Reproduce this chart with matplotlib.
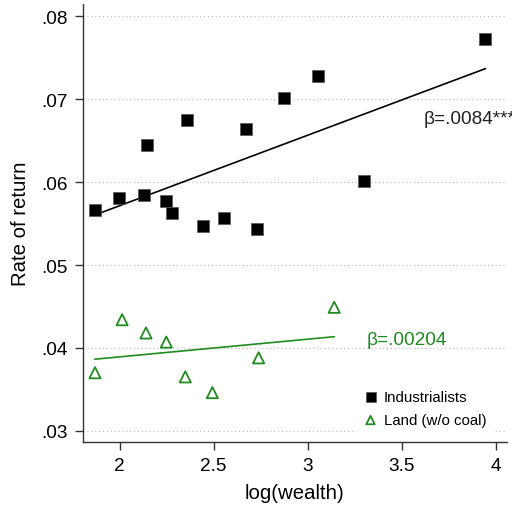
import numpy as np
import matplotlib
matplotlib.use("Agg")
import matplotlib.pyplot as plt

plt.rcParams['font.family'] = ['Liberation Sans', 'DejaVu Sans']

# Industrialists
ind_x = [1.869, 1.997, 2.131, 2.147, 2.248, 2.280, 2.358, 2.445, 2.556, 2.673,
         2.728, 2.876, 3.057, 3.302, 3.944]
ind_y = [0.0566, 0.0581, 0.0585, 0.0645, 0.0577, 0.0563, 0.0675, 0.0547, 0.0557, 0.0664,
         0.0543, 0.0701, 0.0728, 0.0601, 0.0773]
# Land (w/o coal)
land_x = [1.869, 2.013, 2.140, 2.248, 2.349, 2.493, 2.739, 3.141]
land_y = [0.0370, 0.0434, 0.0418, 0.0407, 0.0365, 0.0346, 0.0388, 0.0449]

ind_label = "β=.0084***"
land_label = "β=.00204"
xticks = [2, 2.5, 3, 3.5, 4]
xticklabels = ["2", "2.5", "3", "3.5", "4"]
yticks = [0.03, 0.04, 0.05, 0.06, 0.07, 0.08]
yticklabels = [".03", ".04", ".05", ".06", ".07", ".08"]

green = '#1e8c1e'

fig = plt.figure(figsize=(5.12, 5.06), dpi=100)
ax = fig.add_axes([83/512, 1-443/506, (507-83)/512, (443-5)/506])

ax.set_xlim(1.805, 4.06)
ax.set_ylim(0.02864, 0.0815)

for y in yticks:
    ax.axhline(y, color='#bbbbbb', lw=0.8, ls=(0, (1, 2.5)), zorder=0)

# fits
ix = np.array(ind_x); iy = np.array(ind_y)
b, a = np.polyfit(ix, iy, 1)
xs = np.array([ix.min(), ix.max()])
ax.plot(xs, a + b*xs, color='black', lw=1.2, zorder=2)
lx = np.array(land_x); ly = np.array(land_y)
b2, a2 = np.polyfit(lx, ly, 1)
xs2 = np.array([lx.min(), lx.max()])
ax.plot(xs2, a2 + b2*xs2, color=green, lw=1.2, zorder=2)

ax.scatter(ind_x, ind_y, marker='s', s=80, color='black', edgecolors='#555555',
           linewidths=0.5, zorder=3, label='Industrialists')
ax.scatter(land_x, land_y, marker='^', s=65, facecolors='none', edgecolors=green,
           linewidths=1.3, zorder=3, label='Land (w/o coal)')

ax.text(3.617, 0.0677, ind_label, fontsize=13.7, color='#222222', ha='left', va='center',
        clip_on=False)
ax.text(3.315, 0.0410, land_label, fontsize=13.7, color=green, ha='left', va='center')

leg = ax.legend(loc='lower left', bbox_to_anchor=(0.625, 0.0), frameon=True, fontsize=10.8,
                markerscale=0.75, handletextpad=0.4, labelspacing=0.6, borderpad=0.5,
                handlelength=1.0)
leg.get_frame().set_edgecolor('none')
leg.get_frame().set_facecolor('white')
leg.get_frame().set_alpha(1)

ax.set_xticks(xticks)
ax.set_xticklabels(xticklabels)
ax.set_yticks(yticks)
ax.set_yticklabels(yticklabels)
ax.tick_params(axis='both', labelsize=13.7, length=6, width=1, direction='out', pad=5,
               colors='#333333', labelcolor='black')

for s in ['top', 'right']:
    ax.spines[s].set_visible(False)
for s in ['left', 'bottom']:
    ax.spines[s].set_linewidth(1.0)
    ax.spines[s].set_color('#333333')

ax.set_xlabel("log(wealth)", fontsize=14.7, labelpad=6)
ax.set_ylabel("Rate of return", fontsize=14.7, labelpad=8)

fig.savefig("out.png", dpi=100)
